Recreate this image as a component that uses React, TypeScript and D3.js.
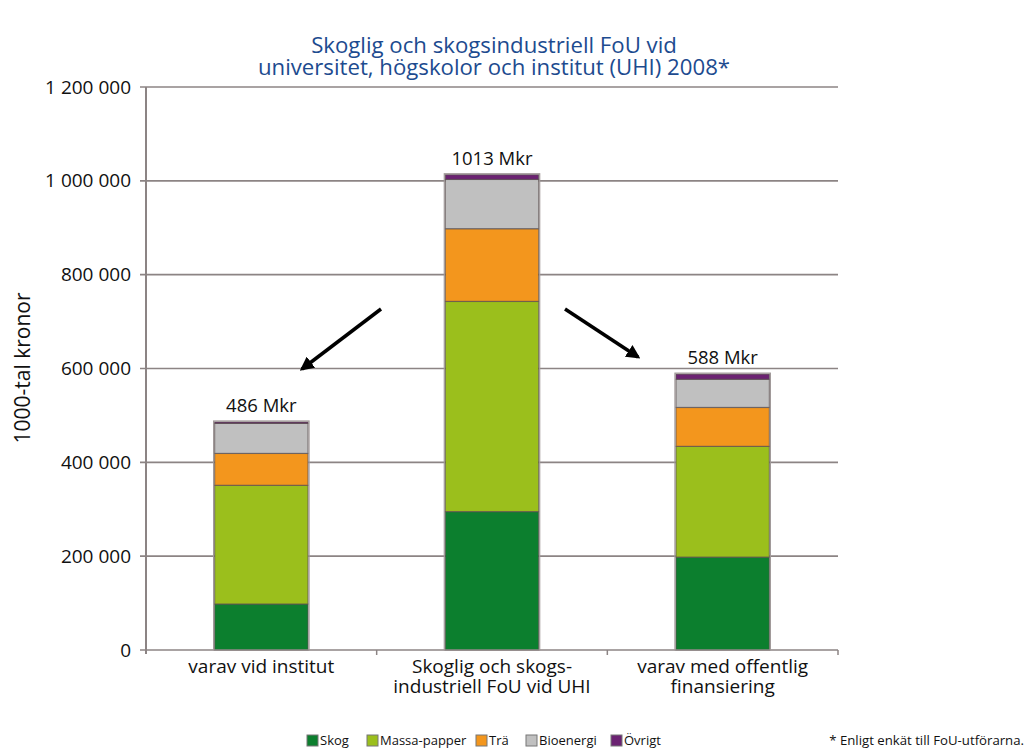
import React from "react";
import * as d3 from "d3";

const categories = [
  ["varav vid institut"],
  ["Skoglig och skogs-", "industriell FoU vid UHI"],
  ["varav med offentlig", "finansiering"],
];
const seriesNames = ["Skog", "Massa-papper", "Trä", "Bioenergi", "Övrigt"];
const seriesColors = ["#0c7f2e", "#9bbf1c", "#f3961d", "#c0c0c0", "#6b2272"];
const skog = [98000, 295000, 198000];
const massaPapper = [253000, 448000, 236000];
const tra = [68000, 155000, 83000];
const bioenergi = [64000, 105000, 60000];
const ovrigt = [3000, 10000, 11000];
const totalLabels = ["486 Mkr", "1013 Mkr", "588 Mkr"];
const yTicks = [0, 200000, 400000, 600000, 800000, 1000000, 1200000];
const titleLines = [
  "Skoglig och skogsindustriell FoU vid",
  "universitet, högskolor och institut (UHI) 2008*",
];
const footnote = "* Enligt enkät till FoU-utförarna.";
const yLabel = "1000-tal kronor";

const W = 1028;
const H = 753;
const left = 146;
const right = 838;
const top = 87;
const bottom = 650;
const FONT = "'Open Sans', sans-serif";

export default function App() {
  const series = [skog, massaPapper, tra, bioenergi, ovrigt];
  const rows = categories.map((_, i) => {
    const r: Record<string, number> = { i };
    seriesNames.forEach((n, k) => (r[n] = series[k][i]));
    return r;
  });
  const stacked = d3.stack<Record<string, number>>().keys(seriesNames)(rows);
  const x = d3
    .scaleBand<number>()
    .domain(categories.map((_, i) => i))
    .range([left, right])
    .paddingInner(0)
    .paddingOuter(0);
  const bw = x.bandwidth() * 0.405;
  const y = d3.scaleLinear().domain([0, 1200000]).range([bottom, top]);
  const fmt = (v: number) => d3.format(",")(v).replace(/,/g, " ");

  const legendX = [307, 367, 476, 526, 611];

  return (
    <svg width={W} height={H} style={{ position: "absolute", left: 0, top: 0, background: "#fff" }}>
      <defs>
        <marker id="ah" viewBox="0 0 10 10" refX="8" refY="5" markerWidth="4" markerHeight="4" orient="auto">
          <path d="M0,0 L10,5 L0,10 z" fill="#000" />
        </marker>
      </defs>
      {titleLines.map((t, i) => (
        <text key={i} x={494} y={53 + i * 22} textAnchor="middle" fontFamily={FONT} fontSize={22.2} fill="#1d4b8f">
          {t}
        </text>
      ))}
      {yTicks.map((t) => (
        <g key={t}>
          <line x1={left - 6} x2={right} y1={y(t)} y2={y(t)} stroke="#8c8484" strokeWidth={1.6} />
          <text x={left - 15} y={y(t) + 6.5} textAnchor="end" fontFamily={FONT} fontSize={19} fill="#111">
            {fmt(t)}
          </text>
        </g>
      ))}
      <line x1={left} x2={left} y1={top} y2={bottom + 4} stroke="#8c8484" strokeWidth={2} />
      {[1, 2, 3].map((k) => (
        <line key={k} x1={left + k * x.bandwidth()} x2={left + k * x.bandwidth()} y1={bottom} y2={bottom + 5} stroke="#8c8484" strokeWidth={1.5} />
      ))}
      <text transform={`translate(30, 368) rotate(-90)`} textAnchor="middle" fontFamily={FONT} fontSize={21} fill="#111">
        {yLabel}
      </text>
      {stacked.map((s, k) => (
        <g key={k}>
          {s.map((d, i) => (
            <rect
              key={i}
              x={(x(i) as number) + x.bandwidth() / 2 - bw / 2}
              y={y(d[1])}
              width={bw}
              height={Math.max(0, y(d[0]) - y(d[1]))}
              fill={seriesColors[k]}
              stroke="#5a5050"
              strokeOpacity={0.7}
              strokeWidth={1.2}
            />
          ))}
        </g>
      ))}
      {categories.map((_, i) => {
        const total = series.reduce((a, s) => a + s[i], 0);
        return (
          <rect key={"o" + i} x={(x(i) as number) + x.bandwidth() / 2 - bw / 2 - 1} y={y(total) - 1} width={bw + 2} height={y(0) - y(total) + 1}
            fill="none" stroke="#a09898" strokeWidth={1.2} />
        );
      })}
      {categories.map((_, i) => {
        const total = series.reduce((a, s) => a + s[i], 0);
        return (
          <text key={"t" + i} x={(x(i) as number) + x.bandwidth() / 2} y={y(total) - 10} textAnchor="middle" fontFamily={FONT} fontSize={18.5} fill="#111">
            {totalLabels[i]}
          </text>
        );
      })}
      {categories.map((lines, i) =>
        lines.map((l, j) => (
          <text key={"c" + i + j} x={(x(i) as number) + x.bandwidth() / 2} y={bottom + 23 + j * 20} textAnchor="middle" fontFamily={FONT} fontSize={19} fill="#111">
            {l}
          </text>
        ))
      )}
      <line x1={381} y1={309} x2={302} y2={369} stroke="#000" strokeWidth={3.5} markerEnd="url(#ah)" />
      <line x1={565} y1={309} x2={638} y2={357} stroke="#000" strokeWidth={3.5} markerEnd="url(#ah)" />
      {seriesNames.map((n, k) => (
        <g key={n}>
          <rect x={legendX[k]} y={735} width={11} height={11} fill={seriesColors[k]} stroke="#777" strokeWidth={1} />
          <text x={legendX[k] + 13} y={745} fontFamily={FONT} fontSize={13} fill="#111">
            {n}
          </text>
        </g>
      ))}
      <text x={1024} y={745} textAnchor="end" fontFamily={FONT} fontSize={13.2} fill="#111">
        {footnote}
      </text>
    </svg>
  );
}
